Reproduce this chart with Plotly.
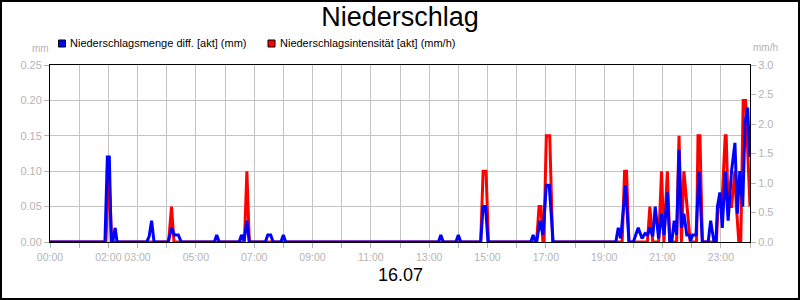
import plotly.graph_objects as go

# ---------------- data ----------------
# Niederschlagsmenge diff. [akt] (mm)  -- left axis
menge_times = [
    "00:00",
    "01:53", "01:58", "02:02", "02:06",
    "02:09", "02:14", "02:18",
    "03:19", "03:24", "03:29", "03:34",
    "04:03", "04:10", "04:16", "04:24", "04:30",
    "05:38", "05:43", "05:48",
    "06:29", "06:34", "06:39", "06:45", "06:50",
    "07:23", "07:28", "07:34", "07:39",
    "07:55", "08:00", "08:05",
    "13:19", "13:24", "13:29",
    "13:55", "14:00", "14:05",
    "14:46", "14:51", "14:56", "15:01",
    "16:29", "16:34", "16:39",
    "16:41", "16:48", "16:54", "17:01", "17:07", "17:15",
    "19:24", "19:29", "19:34", "19:44", "19:51",
    "20:00", "20:10", "20:18", "20:24", "20:29", "20:34", "20:40", "20:45",
    "20:52", "20:58", "21:03", "21:10", "21:15",
    "21:19", "21:24", "21:29", "21:34", "21:39", "21:44", "21:50", "21:55",
    "21:58", "22:02", "22:09", "22:15", "22:22",
    "22:34", "22:39", "22:46",
    "22:50", "22:53", "22:58", "23:03", "23:09", "23:15", "23:22", "23:29",
    "23:34", "23:39", "23:45", "23:50", "23:55", "24:00",
]
menge_values = [
    0,
    0, 0.12, 0.12, 0,
    0, 0.02, 0,
    0, 0.008, 0.03, 0,
    0, 0.02, 0.01, 0.01, 0,
    0, 0.01, 0,
    0, 0.01, 0.002, 0.03, 0,
    0, 0.01, 0.01, 0,
    0, 0.01, 0,
    0, 0.01, 0,
    0, 0.01, 0,
    0, 0.05, 0.05, 0,
    0, 0.01, 0,
    0, 0.03, 0.01, 0.08, 0.08, 0,
    0, 0.02, 0.005, 0.08, 0,
    0, 0.02, 0.005, 0.012, 0.01, 0.02, 0.008, 0.05,
    0.005, 0.04, 0.01, 0.07, 0,
    0, 0.03, 0.01, 0.13, 0.02, 0.04, 0.01, 0.01,
    0.002, 0.01, 0.01, 0.10, 0,
    0, 0.03, 0,
    0, 0.05, 0.07, 0.02, 0.10, 0.03, 0.10, 0.14,
    0.04, 0.10, 0.05, 0.17, 0.19, 0.12,
]

# Niederschlagsintensität [akt] (mm/h)  -- right axis
intens_times = [
    "00:00",
    "01:55", "02:01", "02:07",
    "04:04", "04:10", "04:15",
    "06:40", "06:45", "06:50",
    "14:46", "14:51", "14:57", "15:02",
    "16:41", "16:46", "16:50", "16:54", "16:56", "17:01", "17:08", "17:14",
    "19:37", "19:42", "19:46", "19:51",
    "20:29", "20:34", "20:40",
    "20:52", "20:58", "21:03", "21:10", "21:15",
    "21:29", "21:34", "21:39", "21:44", "21:57",
    "22:10", "22:13", "22:17", "22:22",
    "22:51", "22:54", "23:02", "23:09", "23:11", "23:15", "23:22",
    "23:29", "23:32", "23:37", "23:41", "23:46", "23:51", "24:00",
]
intens_values = [
    0,
    0, 1.2, 0,
    0, 0.6, 0,
    0, 1.2, 0,
    0, 1.2, 1.2, 0,
    0, 0.6, 0.6, 0, 0, 1.8, 1.8, 0,
    0, 1.2, 1.2, 0,
    0, 0.6, 0,
    0, 1.2, 0, 1.2, 0,
    0, 1.8, 0, 1.2, 0,
    0, 1.8, 1.8, 0,
    0, 0.6, 0.6, 1.8, 1.8, 0.6, 0.6,
    1.2, 0.6, 0, 0, 2.4, 2.4, 0.6,
]

hour_labels = ["00:00", "", "02:00", "03:00", "", "05:00", "", "07:00", "",
               "09:00", "", "11:00", "", "13:00", "", "15:00", "", "17:00",
               "", "19:00", "", "21:00", "", "23:00", ""]

title_text = "Niederschlag"
date_text = "16.07"
menge_name = "Niederschlagsmenge diff. [akt] (mm)"
intens_name = "Niederschlagsintensität [akt] (mm/h)"


def to_min(s):
    h, m = s.split(":")
    return int(h) * 60 + int(m)


menge_x = [to_min(t) for t in menge_times]
intens_x = [to_min(t) for t in intens_times]
hour_vals = [h * 60 for h in range(len(hour_labels))]

# ---------------- layout helpers (pixel -> paper) ----------------
L, R, T, B = 50, 50, 65, 58
W, H = 800, 300
PW, PH = W - L - R, H - T - B


def px(x):
    return (x - L) / PW


def py(y):
    return (H - B - y) / PH


FONT = "Liberation Sans, Arial, sans-serif"
GRAY = "#b4b4b4"
GRID = "#c4c4c4"

fig = go.Figure()
# intensity on the base axis (right side), amount on the overlaying axis (left side)
# so that the blue line is drawn above the red one
fig.add_trace(go.Scatter(x=intens_x, y=intens_values, mode="lines", yaxis="y",
                         line=dict(color="#ff0000", width=3), name=intens_name,
                         showlegend=False, hoverinfo="skip"))
fig.add_trace(go.Scatter(x=menge_x, y=menge_values, mode="lines", yaxis="y2",
                         line=dict(color="#0000ff", width=3), name=menge_name,
                         showlegend=False, hoverinfo="skip"))

fig.update_layout(
    width=W, height=H,
    margin=dict(l=L, r=R, t=T, b=B),
    paper_bgcolor="white", plot_bgcolor="white",
    font=dict(family=FONT, color=GRAY, size=11),
    title=dict(text=title_text, x=0.5, xanchor="center", y=1 - 17 / H, yanchor="middle",
               font=dict(family=FONT, size=27, color="black")),
    xaxis=dict(range=[0, 1440], tickmode="array", tickvals=hour_vals, ticktext=hour_labels,
               showgrid=True, gridcolor=GRID, gridwidth=1,
               ticks="outside", ticklen=5, tickcolor=GRAY,
               tickfont=dict(size=10.5, color=GRAY, family=FONT),
               showline=True, linecolor="black", linewidth=1, mirror=True,
               zeroline=False, fixedrange=True),
    yaxis=dict(range=[0, 3.0], dtick=0.5, tick0=0, tickformat=".1f",
               side="right", showgrid=False,
               ticks="outside", ticklen=5, tickcolor=GRAY,
               tickfont=dict(size=11, color=GRAY, family=FONT),
               showline=True, linecolor="black", linewidth=1,
               zeroline=False, fixedrange=True),
    yaxis2=dict(range=[0, 0.25], dtick=0.05, tick0=0, tickformat=".2f",
                overlaying="y", side="left",
                showgrid=True, gridcolor=GRID, gridwidth=1,
                ticks="outside", ticklen=5, tickcolor=GRAY,
                tickfont=dict(size=11, color=GRAY, family=FONT),
                showline=True, linecolor="black", linewidth=1,
                zeroline=False, fixedrange=True),
)

shapes = [
    # outer frame
    dict(type="rect", xref="paper", yref="paper",
         x0=px(1), x1=px(799), y0=py(299), y1=py(1),
         line=dict(color="black", width=2), fillcolor="rgba(0,0,0,0)", layer="above"),
    # legend squares
    dict(type="rect", xref="paper", yref="paper",
         x0=px(58.5), x1=px(65.5), y0=py(47), y1=py(40),
         line=dict(color="black", width=1), fillcolor="#0000ff"),
    dict(type="rect", xref="paper", yref="paper",
         x0=px(268), x1=px(275), y0=py(47), y1=py(40),
         line=dict(color="black", width=1), fillcolor="#ff0000"),
]

annotations = [
    dict(text=menge_name, xref="paper", yref="paper", x=px(68), y=py(43.5),
         xanchor="left", yanchor="middle", showarrow=False,
         font=dict(family=FONT, size=11, color="black")),
    dict(text=intens_name, xref="paper", yref="paper", x=px(277.5), y=py(43.5),
         xanchor="left", yanchor="middle", showarrow=False,
         font=dict(family=FONT, size=11, color="black")),
    dict(text="mm", xref="paper", yref="paper", x=px(40), y=py(49),
         xanchor="center", yanchor="middle", showarrow=False,
         font=dict(family=FONT, size=10, color=GRAY)),
    dict(text="mm/h", xref="paper", yref="paper", x=px(765), y=py(47),
         xanchor="center", yanchor="middle", showarrow=False,
         font=dict(family=FONT, size=10, color=GRAY)),
    dict(text=date_text, xref="paper", yref="paper", x=0.5, y=py(275),
         xanchor="center", yanchor="middle", showarrow=False,
         font=dict(family=FONT, size=18, color="black")),
]

fig.update_layout(shapes=shapes, annotations=annotations)

fig.write_html("out.html")
